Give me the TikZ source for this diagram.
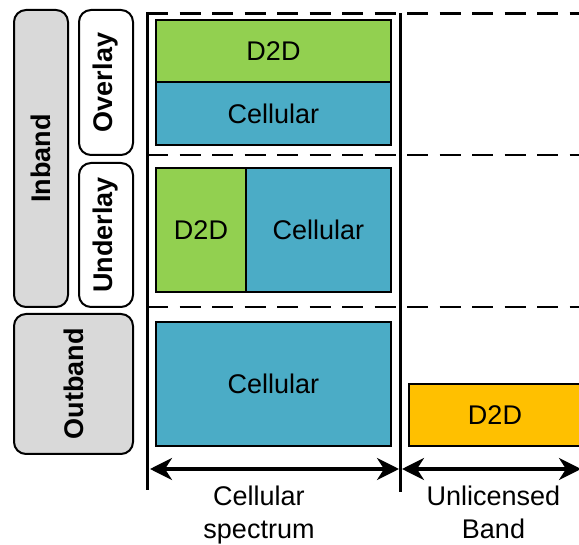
\documentclass[tikz,border=0pt]{standalone}
\usepackage{fontspec}
\setmainfont{Liberation Sans}
\usetikzlibrary{arrows.meta}
\definecolor{cgreen}{HTML}{92D050}
\definecolor{cblue}{HTML}{4BACC6}
\definecolor{corange}{HTML}{FFC000}
\definecolor{cgray}{HTML}{D9D9D9}
\begin{document}
\begin{tikzpicture}[x=1pt,y=-1pt,
  every node/.style={inner sep=0pt,outer sep=0pt},
  txt/.style={font=\fontsize{27}{33}\selectfont},
  blk/.style={draw=black,line width=2pt,txt},
  tag/.style={draw=black,line width=2pt,rounded corners=12pt,rotate=90,
              font=\fontsize{27}{33}\selectfont\bfseries},
  sep/.style={line width=2.6pt,dash pattern=on 21pt off 11.5pt},
  axis/.style={line width=3pt},
  dim/.style={line width=3.5pt,{Stealth[length=22pt,width=22pt,inset=7pt]}-{Stealth[length=22pt,width=22pt,inset=7pt]}}]
\useasboundingbox (0,0) rectangle (579,545);

% left classification tags
\node[tag,fill=cgray,minimum width=297pt,minimum height=54pt] (inband) at (41,158.5) {Inband};
\node[tag,fill=white,minimum width=145pt,minimum height=54pt] (overlay) at (106,82.5) {Overlay};
\node[tag,fill=white,minimum width=144pt,minimum height=54pt] (underlay) at (106,235) {Underlay};
\node[tag,fill=cgray,minimum width=140pt,minimum height=119pt] (outband) at (73.5,384) {Outband};

% frame coordinates
\coordinate (lt) at (147,12);
\coordinate (lb) at (147,490);
\coordinate (mt) at (400.5,13);
\coordinate (mb) at (400.5,492);
\coordinate (d1l) at (147,13.5);
\coordinate (d1r) at (579,13.5);
\coordinate (d2l) at (147,155);
\coordinate (d2r) at (579,155);
\coordinate (d3l) at (147,307);
\coordinate (d3r) at (579,307);

\draw[sep] (d1l) -- (d1r);
\draw[sep] (d2l) -- (d2r);
\draw[sep] (d3l) -- (d3r);
\draw[axis] (lt) -- (lb);
\draw[axis] (mt) -- (mb);

% spectrum blocks
\node[blk,fill=cgreen,minimum width=235pt,minimum height=62pt] (d2dA) at (273.5,51) {D2D};
\node[blk,fill=cblue,minimum width=235pt,minimum height=63pt] (cellA) at (273.5,113.5) {Cellular};
\node[blk,fill=cgreen,minimum width=90pt,minimum height=124pt] (d2dB) at (201,230) {D2D};
\node[blk,fill=cblue,minimum width=145pt,minimum height=124pt] (cellB) at (318.5,230) {Cellular};
\node[blk,fill=cblue,minimum width=235pt,minimum height=124pt] (cellC) at (273.5,384) {Cellular};
\node[blk,fill=corange,minimum width=172pt,minimum height=62pt] (d2dC) at (495,415) {D2D};

% dimension arrows
\coordinate (a1l) at (150,469);
\coordinate (a1r) at (399,469);
\coordinate (a2l) at (402,469);
\coordinate (a2r) at (581,469);
\draw[dim] (a1l) -- (a1r);
\draw[dim] (a2l) -- (a2r);

\node[txt,align=center,anchor=north] (cs) at (259,486) {Cellular\\spectrum};
\node[txt,align=center,anchor=north] (ub) at (493.5,486) {Unlicensed\\Band};
\end{tikzpicture}
\end{document}
